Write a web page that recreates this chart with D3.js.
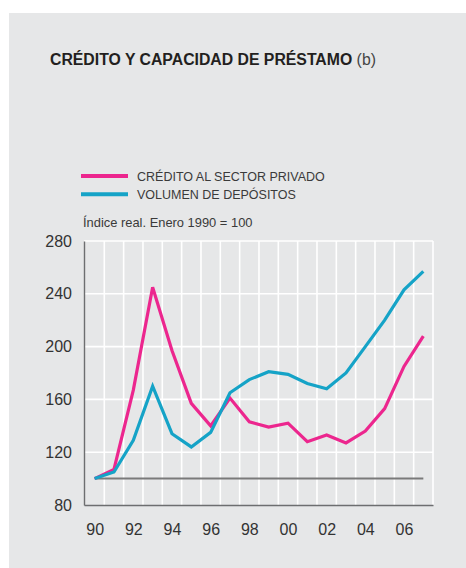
<!DOCTYPE html>
<html><head><meta charset="utf-8">
<script src="https://cdn.jsdelivr.net/npm/d3@7"></script>
<style>
html,body{margin:0;padding:0;background:#fff;}
svg{display:block;}
text{font-family:"Liberation Sans",Arial,sans-serif;}
</style></head>
<body>
<script>
const years = [1990,1991,1992,1993,1994,1995,1996,1997,1998,1999,2000,2001,2002,2003,2004,2005,2006,2007];
const credito = [100,107,167,245,197,157,140,161,143,139,142,128,133,127,136,153,185,208];
const depositos = [100,105,129,170,134,124,135,165,175,181,179,172,168,180,200,220,243,257];
const yTicks = [80,120,160,200,240,280];
const xTickYears = [1990,1992,1994,1996,1998,2000,2002,2004,2006];
const seriesNames = ["CRÉDITO AL SECTOR PRIVADO","VOLUMEN DE DEPÓSITOS"];
const seriesColors = ["#ec268e","#15a3c7"];

const W=466,H=568;
const svg=d3.select("body").append("svg").attr("width",W).attr("height",H);
svg.append("rect").attr("x",9).attr("y",13).attr("width",W-9).attr("height",H-13).attr("fill","#e6e7e8");

svg.append("text").attr("x",50).attr("y",65).attr("font-size",15.8).attr("fill","#231f20")
  .attr("font-weight","700")
  .text("CRÉDITO Y CAPACIDAD DE PRÉSTAMO")
  .append("tspan").attr("font-weight","400").attr("fill","#444").text(" (b)");

const x=d3.scaleLinear().domain([1989.45,2007.5]).range([84,433]);
const y=d3.scaleLinear().domain([80,280]).range([505,241]);

// legend
seriesNames.forEach((n,i)=>{
  const ly=176+i*18.3;
  svg.append("line").attr("x1",81).attr("x2",128).attr("y1",ly).attr("y2",ly)
    .attr("stroke",seriesColors[i]).attr("stroke-width",4);
  svg.append("text").attr("x",137).attr("y",ly+4.5).attr("font-size",12.5).attr("fill","#3a3a3a").text(n);
});
svg.append("text").attr("x",83).attr("y",227).attr("font-size",12.9).attr("fill","#3a3a3a")
  .text("Índice real. Enero 1990 = 100");

// grid
const g=svg.append("g");
const vlines=d3.range(1990.5,2008,1);
g.selectAll(".vg").data(vlines).join("line")
  .attr("x1",d=>x(d)).attr("x2",d=>x(d)).attr("y1",y(280)).attr("y2",y(80))
  .attr("stroke","#fff").attr("stroke-width",1.6);
g.selectAll(".hg").data(yTicks.slice(1)).join("line")
  .attr("x1",x.range()[0]).attr("x2",x.range()[1]).attr("y1",d=>y(d)).attr("y2",d=>y(d))
  .attr("stroke","#fff").attr("stroke-width",1.6);

// axes
const yAxis=svg.append("g").attr("transform",`translate(${x.range()[0]},0)`)
  .call(d3.axisLeft(y).tickValues(yTicks).tickSize(0).tickPadding(12));
yAxis.select(".domain").attr("stroke","#6d6e70").attr("stroke-width",1.4);
yAxis.selectAll("text").attr("font-size",16).attr("fill","#333").attr("font-family","'Liberation Sans',Arial,sans-serif");

const xAxis=svg.append("g").attr("transform",`translate(0,${y(80)})`)
  .call(d3.axisBottom(x).tickValues(xTickYears).tickSize(0).tickPadding(19)
    .tickFormat(d=>String(d).slice(2)));
xAxis.select(".domain").attr("stroke","#6d6e70").attr("stroke-width",1.4);
xAxis.selectAll("text").attr("font-size",16).attr("fill","#333").attr("font-family","'Liberation Sans',Arial,sans-serif");

// baseline 100
svg.append("line").attr("x1",x(1990)).attr("x2",x(2007)).attr("y1",y(100)).attr("y2",y(100))
  .attr("stroke","#7a7a7a").attr("stroke-width",2);

const line=d3.line().x((d,i)=>x(years[i])).y(d=>y(d));
[credito,depositos].forEach((s,i)=>{
  svg.append("path").datum(s).attr("d",line).attr("fill","none")
    .attr("stroke",seriesColors[i]).attr("stroke-width",3.2).attr("stroke-linejoin","miter");
});
</script>
</body></html>
